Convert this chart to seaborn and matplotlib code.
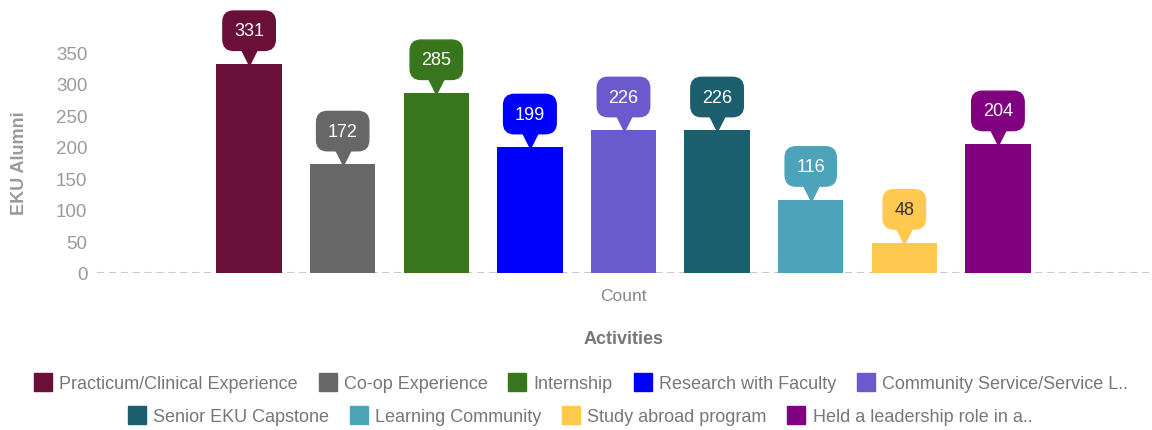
import numpy as np
import pandas as pd
import seaborn as sns
import matplotlib.pyplot as plt
from matplotlib.lines import Line2D
from matplotlib.transforms import offset_copy

activities = [
    "Practicum/Clinical Experience",
    "Co-op Experience",
    "Internship",
    "Research with Faculty",
    "Community Service/Service L..",
    "Senior EKU Capstone",
    "Learning Community",
    "Study abroad program",
    "Held a leadership role in a..",
]
counts = [331, 172, 285, 199, 226, 226, 116, 48, 204]
bar_colors = ["#690F38", "#676767", "#38761D", "#0000FF", "#6A5ACD",
              "#1B5E6D", "#4DA3B9", "#FFC84E", "#800080"]
label_text_colors = ["white"] * 7 + ["#333333", "white"]
y_ticks = [0, 50, 100, 150, 200, 250, 300, 350]

sns.set_theme(style="white")
plt.rcParams['font.family'] = ['Liberation Sans', 'DejaVu Sans']

df = pd.DataFrame({"metric": "Count", "activity": activities, "alumni": counts})

fig = plt.figure(figsize=(11.52, 4.31), dpi=100)
ax = fig.add_axes([97 / 1152, 157 / 431, 1053 / 1152, 252.5 / 431])

sns.barplot(data=df, x="metric", y="alumni", hue="activity", hue_order=activities,
            palette=bar_colors, width=0.8, gap=0.3, legend=False, ax=ax,
            saturation=1, linewidth=0)

ax.set_ylim(0, 400)
ax.set_xlim(-0.5, 0.5)
ax.set_yticks(y_ticks)
ax.tick_params(axis="y", length=0, pad=7, labelsize=13.5, labelcolor="#9a9a9a")
ax.tick_params(axis="x", length=0, pad=11, labelsize=12.5, labelcolor="#888888")
for s in ax.spines.values():
    s.set_visible(False)
ax.axhline(0, color="#c8c8c8", lw=1.5, ls=(0, (3.5, 2.2)), zorder=0)

ax.set_ylabel("")
ax.set_xlabel("Activities", fontsize=13, fontweight="bold", color="#777777", labelpad=19)
fig.text(20 / 1152, 1 - 163 / 431, "EKU Alumni", rotation=90, ha="center", va="center",
         fontsize=13, fontweight="bold", color="#999999")

# callout labels above the bars
tri_trans = offset_copy(ax.transData, fig=fig, x=0, y=7, units="dots")
for container, col, tcol in zip(ax.containers, bar_colors, label_text_colors):
    for bar in container:
        x = bar.get_x() + bar.get_width() / 2
        h = bar.get_height()
        ax.plot([x], [h], marker="v", markersize=11, color=col, transform=tri_trans,
                clip_on=False, zorder=4)
        ax.annotate(f"{int(h)}", (x, h), xytext=(0, 24), textcoords="offset points",
                    ha="center", va="center", fontsize=13, color=tcol, zorder=5,
                    annotation_clip=False,
                    bbox=dict(boxstyle="round,pad=0.62,rounding_size=0.6", fc=col, ec=col))

# two centred legend rows
def make_handles(idx):
    return [Line2D([], [], marker="s", ls="", markersize=12.5, color=bar_colors[i]) for i in idx]

leg_kw = dict(frameon=False, fontsize=13, handlelength=1.0, handletextpad=0.4,
              columnspacing=1.15, labelcolor="#777777", borderaxespad=0)
fig.legend(make_handles(range(5)), activities[:5], loc="center", ncol=5,
           bbox_to_anchor=(581 / 1152, 1 - 385 / 431), **leg_kw)
fig.legend(make_handles(range(5, 9)), activities[5:], loc="center", ncol=4,
           bbox_to_anchor=(580 / 1152, 1 - 418 / 431), **leg_kw)

plt.savefig("out.png", dpi=100)
